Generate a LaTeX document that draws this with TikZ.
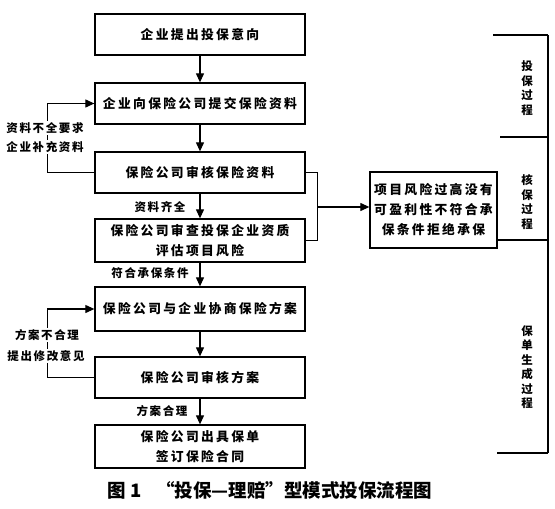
\documentclass[tikz,border=0pt]{standalone}
\usepackage{fontspec}
\setmainfont{Noto Sans CJK SC}
\newfontfamily\cjksp[LetterSpace=18]{Noto Sans CJK SC}
\newfontfamily\cjkss[LetterSpace=14]{Noto Sans CJK SC}
\usetikzlibrary{arrows.meta}
\begin{document}
\begin{tikzpicture}[x=1pt,y=-1pt,
  box/.style={draw,line width=1.3pt,minimum width=210pt,inner sep=0pt,align=center,
    font=\cjksp\bfseries\fontsize{12.8}{20}\selectfont},
  side/.style={inner sep=1pt,font=\cjkss\bfseries\fontsize{11.5}{14}\selectfont},
  sidew/.style={side,fill=white},
  vert/.style={inner sep=0pt,align=center,font=\bfseries\fontsize{11.5}{14.5}\selectfont},
  ln/.style={line width=1.1pt},
  arr/.style={ln,-{Triangle[length=9pt,width=8pt]}}]
\useasboundingbox (0,0) rectangle (555,509);
\node[box,minimum height=41pt] (b1) at (200,34.5) {企业提出投保意向};
\node[box,minimum height=41pt] (b2) at (200,103.5) {企业向保险公司提交保险资料};
\node[box,minimum height=41pt] (b3) at (200,172.5) {保险公司审核保险资料};
\node[box,minimum height=43pt] (b4) at (200,240.5) {保险公司审查投保企业资质\\评估项目风险};
\node[box,minimum height=44pt] (b5) at (200,309) {保险公司与企业协商保险方案};
\node[box,minimum height=41pt] (b6) at (200,377.5) {保险公司审核方案};
\node[box,minimum height=43pt] (b7) at (200,446.5) {保险公司出具保单\\签订保险合同};
\node[box,minimum width=127pt,minimum height=76pt] (r) at (433.5,210) {项目风险过高没有\\可盈利性不符合承\\保条件拒绝承保};
% main arrows
\draw[arr] (b1) -- (b2);
\draw[arr] (b2) -- (b3);
\draw[arr] (b3) -- (b4);
\draw[arr] (b4) -- (b5);
\draw[arr] (b5) -- (b6);
\draw[arr] (b6) -- (b7);
% feedback loops
\draw[arr] (b3.west) -- ++(-47,0) |- (b2.west);
\draw[arr] (b6.west) -- ++(-47,0) |- (b5.west);
\node[sidew] (f1) at (45,128) {资料不全要求};
\node[sidew] (f2) at (45,147) {企业补充资料};
\node[sidew] (f3) at (47,335) {方案不合理};
\node[sidew] (f4) at (46,356) {提出修改意见};
% reject connector
\draw[ln] (b3.east) -- ++(12,0) |- (b4.east);
\coordinate (m) at (317,207);
\draw[arr] (m) -- (m -| r.west);
% arrow labels
\node[side] (l1) at (160,207) {资料齐全};
\node[side] (l2) at (150,273) {符合承保条件};
\node[side] (l3) at (162,411) {方案合理};
% right bracket
\coordinate (t0) at (548,35);
\coordinate (t3) at (548,453);
\draw[ln] (t0) -- (t3);
\draw[ln] (493,35) -- (t0);
\draw[ln] (500,137) -- (548,137);
\draw[ln] (497,240) -- (548,240);
\draw[ln] (497,453) -- (t3);
\node[vert] (v1) at (527,88) {投\\保\\过\\程};
\node[vert] (v2) at (527,202) {核\\保\\过\\程};
\node[vert] (v3) at (527,367) {保\\单\\生\\成\\过\\程};
% caption
\node[inner sep=0pt,font=\bfseries\fontsize{18.5}{20}\selectfont] (cap) at (270,490) {图 1\hspace{0.8em}“投保—理赔”型模式投保流程图};
\end{tikzpicture}
\end{document}
